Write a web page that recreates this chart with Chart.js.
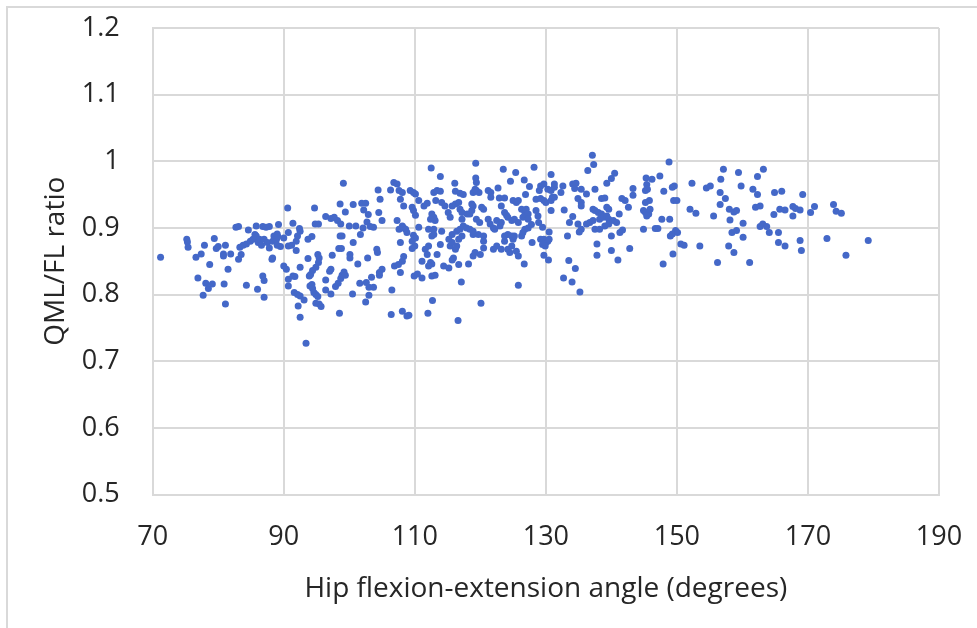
<!DOCTYPE html>
<html>
<head>
<meta charset="utf-8">
<script src="https://cdn.jsdelivr.net/npm/chart.js@4.4.1/dist/chart.umd.min.js"></script>
<style>
  html, body { margin: 0; padding: 0; background: #fff; overflow: hidden; }
  #frame { position: absolute; left: 6px; top: 6px; width: 971px; height: 622px; border-left: 2px solid #d9d9d9; border-top: 2px solid #d9d9d9; }
  #myChart { position: absolute; left: 0; top: 0; }
</style>
</head>
<body>
<div id="frame"></div>
<canvas id="myChart" width="977" height="628"></canvas>
<script>
// values, one entry per dot
const hipAngle = [
  71.2, 75.2, 75.3, 75.4, 76.6, 77.4, 77.9, 79.4, 78.7, 76.9,
  78.1, 78.5, 79.1, 77.7, 81.1, 80.9, 81.5, 79.7, 80.0, 81.1,
  80.8, 80.8, 81.9, 82.7, 83.1, 83.3, 83.5, 83.1, 84.3, 86.0,
  87.0, 86.8, 87.0, 88.2, 88.3, 84.6, 85.8, 86.8, 87.3, 87.8,
  89.2, 83.8, 84.3, 84.9, 85.3, 85.6, 85.8, 86.1, 86.3, 86.6,
  87.0, 87.5, 87.8, 88.3, 88.5, 89.0, 88.9, 89.1, 89.0, 89.5,
  90.0, 90.6, 90.0, 90.4, 90.7, 90.7, 90.7, 90.7,
  99.1, 94.7, 91.4, 92.4, 92.5, 91.9, 92.1, 91.9, 91.2, 93.7,
  94.3, 94.8, 95.3, 96.4, 97.2, 97.7, 98.2, 98.7, 98.6, 99.4,
  100.6, 101.9, 102.5, 102.2, 102.9, 102.7, 103.7, 103.2, 100.0, 101.0,
  102.1, 101.7, 98.6, 98.9, 98.4, 98.8, 100.6, 100.1, 100.1, 97.4,
  102.8, 101.3, 104.2, 104.3, 93.7, 95.2, 95.4, 95.3, 94.9, 94.4,
  94.1, 93.9, 94.0, 94.3, 92.5, 91.4, 91.7, 91.6, 92.1, 92.5,
  93.1, 92.2, 92.5, 94.4, 94.6, 94.9, 95.2, 94.9, 95.4, 95.7,
  96.4, 96.4, 97.2, 97.0, 97.2, 97.9, 98.3, 98.7, 98.9, 99.2,
  99.4, 100.5, 101.6, 102.6, 103.0, 103.4, 103.7, 103.0, 102.5, 98.5,
  93.4, 104.6, 105.0, 104.6, 106.5, 106.4, 108.1, 108.8, 106.9, 107.5,
  108.1, 108.3, 107.8, 104.4, 104.7, 106.3, 106.8, 107.3, 107.6, 108.1,
  107.8, 108.3, 109.3, 109.8, 110.1, 109.6, 109.8, 110.1, 107.3, 107.6,
  108.1, 108.3, 108.6, 108.8, 107.8, 109.8, 110.1, 109.6, 110.0, 105.0,
  104.5,
  112.5, 113.9, 119.3, 123.5, 125.4, 128.2, 116.1, 119.3, 119.4, 124.6,
  126.7, 122.7, 127.5, 129.0, 112.9, 113.4, 113.9, 116.2, 116.9, 117.4,
  118.9, 119.4, 119.8, 119.2, 121.2, 121.6, 121.6, 126.9, 122.9, 123.7,
  125.0, 125.5, 125.8, 128.5, 110.6, 111.9, 111.4, 113.2, 114.1, 114.6,
  115.7, 116.2, 116.7, 118.7, 118.9, 116.9, 117.2, 118.0, 120.2, 120.5,
  118.7, 118.4, 112.6, 112.9, 113.1, 112.4, 115.1, 115.4, 117.2, 119.4,
  119.9, 123.2, 123.7, 124.0, 124.2, 124.8, 125.2, 125.8, 126.3, 126.8,
  127.0, 127.3, 126.5, 127.3, 128.5, 128.8, 121.2, 121.5, 122.0, 122.2,
  122.5, 123.0, 123.2, 110.6, 112.1, 112.9, 112.6, 112.9, 114.1, 115.7,
  116.4, 116.9, 117.4, 117.9, 118.4, 118.9, 118.9, 119.7, 117.2, 116.7,
  115.2, 115.4, 115.7, 116.2, 116.4, 120.5, 120.5, 120.5, 113.9, 113.4,
  111.6, 112.1, 111.9, 111.1, 112.4, 112.6, 112.1, 114.4, 115.2, 115.9,
  115.7, 116.7, 118.2, 118.9, 119.2, 120.0, 122.0, 122.5, 123.2, 123.7,
  124.2, 124.5, 124.8, 125.0, 125.2, 124.2, 123.7, 124.8, 125.5, 125.8,
  126.3, 126.5, 126.8, 127.3, 127.8, 126.7, 125.8, 127.9, 117.1, 109.9,
  110.4, 111.1, 112.6, 113.1, 112.7, 112.0, 120.1, 116.6, 109.1, 109.6,
  137.1, 137.3, 136.4, 140.5, 140.0, 139.3, 148.8, 147.4, 145.3, 146.2,
  145.4, 149.6, 149.3, 148.0, 130.8, 129.2, 129.7, 130.3, 130.8, 131.3,
  131.3, 132.6, 132.3, 134.1, 134.6, 134.4, 135.4, 136.2, 137.5, 143.3,
  143.3, 145.2, 145.5, 145.8, 145.2, 144.9, 145.2, 145.7, 145.4, 145.9,
  149.5, 150.0, 141.6, 142.1, 142.6, 138.5, 139.0, 139.3, 139.6, 141.2,
  134.9, 135.4, 135.4, 129.2, 129.7, 130.0, 130.8, 131.0, 131.3, 130.8,
  132.8, 134.1, 137.2, 137.5, 138.0, 138.5, 138.2, 138.8, 139.3, 139.6,
  140.3, 140.8, 139.0, 139.6, 136.2, 136.7, 137.2, 134.9, 133.6, 135.4,
  135.1, 137.5, 138.2, 141.3, 141.7, 140.0, 133.3, 130.5, 128.9, 129.5,
  129.2, 129.7, 130.0, 130.3, 130.5, 129.5, 129.9, 129.7, 130.4, 137.8,
  137.8, 140.0, 141.0, 142.8, 144.9, 146.7, 147.1, 147.7, 148.9, 149.0,
  149.3, 149.8, 150.1, 150.6, 151.1, 149.4, 147.9, 133.5, 134.5, 132.7,
  134.0, 135.2,
  157.1, 159.4, 163.2, 162.3, 156.7, 152.3, 154.5, 155.1, 159.8, 161.6,
  162.3, 156.6, 157.4, 156.6, 164.9, 166.0, 169.2, 152.0, 152.9, 155.6,
  158.0, 158.7, 159.1, 158.1, 160.1, 162.0, 162.7, 164.8, 165.7, 166.5,
  167.7, 168.1, 168.8, 167.7, 170.4, 171.0, 158.4, 159.1, 160.1, 162.7,
  163.1, 163.7, 164.1, 165.5, 165.5, 166.5, 168.8, 169.0, 153.5, 157.9,
  158.7, 156.2, 161.1,
  173.9, 174.3, 175.1, 172.9, 175.8, 179.2
];

const qmlFlRatio = [
  0.856, 0.883, 0.879, 0.871, 0.856, 0.861, 0.874, 0.884, 0.845, 0.825,
  0.817, 0.809, 0.816, 0.799, 0.786, 0.816, 0.838, 0.869, 0.872, 0.874,
  0.861, 0.858, 0.861, 0.901, 0.902, 0.871, 0.860, 0.853, 0.814, 0.808,
  0.796, 0.828, 0.821, 0.853, 0.855, 0.897, 0.903, 0.902, 0.901, 0.902,
  0.905, 0.874, 0.876, 0.880, 0.883, 0.890, 0.888, 0.878, 0.883, 0.874,
  0.883, 0.878, 0.870, 0.880, 0.888, 0.891, 0.883, 0.887, 0.874, 0.872,
  0.885, 0.930, 0.843, 0.838, 0.823, 0.813, 0.873, 0.893,
  0.967, 0.930, 0.907, 0.899, 0.895, 0.880, 0.888, 0.866, 0.874, 0.883,
  0.887, 0.906, 0.906, 0.917, 0.914, 0.916, 0.911, 0.906, 0.936, 0.924,
  0.935, 0.937, 0.937, 0.927, 0.920, 0.909, 0.901, 0.902, 0.903, 0.903,
  0.900, 0.890, 0.888, 0.888, 0.869, 0.869, 0.878, 0.860, 0.855, 0.859,
  0.855, 0.846, 0.868, 0.863, 0.854, 0.860, 0.855, 0.848, 0.841, 0.836,
  0.830, 0.828, 0.813, 0.815, 0.841, 0.828, 0.827, 0.803, 0.800, 0.798,
  0.792, 0.783, 0.766, 0.809, 0.803, 0.800, 0.797, 0.787, 0.786, 0.782,
  0.822, 0.807, 0.801, 0.835, 0.838, 0.812, 0.817, 0.824, 0.829, 0.834,
  0.829, 0.801, 0.817, 0.818, 0.811, 0.826, 0.811, 0.799, 0.789, 0.772,
  0.727, 0.833, 0.838, 0.829, 0.807, 0.770, 0.775, 0.768, 0.843, 0.845,
  0.850, 0.857, 0.833, 0.957, 0.943, 0.957, 0.968, 0.966, 0.956, 0.953,
  0.943, 0.933, 0.956, 0.953, 0.951, 0.931, 0.926, 0.919, 0.911, 0.898,
  0.903, 0.900, 0.898, 0.893, 0.878, 0.889, 0.885, 0.869, 0.873, 0.911,
  0.923,
  0.990, 0.977, 0.997, 0.988, 0.983, 0.991, 0.967, 0.975, 0.968, 0.970,
  0.972, 0.960, 0.962, 0.956, 0.953, 0.956, 0.955, 0.955, 0.952, 0.950,
  0.953, 0.956, 0.953, 0.958, 0.956, 0.953, 0.946, 0.950, 0.945, 0.945,
  0.941, 0.938, 0.941, 0.943, 0.941, 0.937, 0.933, 0.941, 0.938, 0.933,
  0.933, 0.936, 0.938, 0.936, 0.933, 0.928, 0.923, 0.921, 0.931, 0.928,
  0.926, 0.921, 0.921, 0.916, 0.911, 0.913, 0.923, 0.916, 0.913, 0.913,
  0.908, 0.933, 0.923, 0.919, 0.916, 0.911, 0.913, 0.908, 0.928, 0.923,
  0.928, 0.921, 0.916, 0.913, 0.926, 0.918, 0.913, 0.906, 0.900, 0.898,
  0.911, 0.903, 0.908, 0.901, 0.898, 0.898, 0.888, 0.890, 0.895, 0.890,
  0.895, 0.898, 0.903, 0.900, 0.898, 0.890, 0.895, 0.890, 0.888, 0.883,
  0.883, 0.873, 0.878, 0.868, 0.873, 0.888, 0.880, 0.870, 0.875, 0.860,
  0.868, 0.873, 0.860, 0.850, 0.848, 0.846, 0.843, 0.843, 0.840, 0.855,
  0.852, 0.845, 0.846, 0.858, 0.863, 0.860, 0.868, 0.873, 0.868, 0.880,
  0.868, 0.863, 0.873, 0.883, 0.888, 0.890, 0.888, 0.888, 0.865, 0.858,
  0.888, 0.893, 0.898, 0.900, 0.905, 0.846, 0.814, 0.878, 0.819, 0.828,
  0.831, 0.825, 0.828, 0.829, 0.791, 0.772, 0.787, 0.761, 0.769, 0.880,
  1.009, 0.995, 0.986, 0.982, 0.974, 0.967, 0.999, 0.978, 0.975, 0.973,
  0.965, 0.963, 0.961, 0.955, 0.980, 0.963, 0.966, 0.958, 0.956, 0.966,
  0.961, 0.963, 0.953, 0.966, 0.967, 0.959, 0.958, 0.951, 0.958, 0.959,
  0.949, 0.956, 0.958, 0.941, 0.938, 0.926, 0.923, 0.921, 0.918, 0.928,
  0.941, 0.941, 0.944, 0.941, 0.931, 0.944, 0.945, 0.931, 0.928, 0.921,
  0.944, 0.938, 0.933, 0.944, 0.941, 0.938, 0.941, 0.946, 0.946, 0.926,
  0.927, 0.917, 0.928, 0.926, 0.923, 0.921, 0.913, 0.916, 0.918, 0.913,
  0.911, 0.908, 0.903, 0.906, 0.906, 0.908, 0.911, 0.906, 0.908, 0.898,
  0.894, 0.898, 0.898, 0.893, 0.897, 0.888, 0.888, 0.894, 0.908, 0.901,
  0.883, 0.883, 0.878, 0.880, 0.883, 0.875, 0.873, 0.859, 0.852, 0.876,
  0.859, 0.866, 0.852, 0.869, 0.898, 0.899, 0.899, 0.913, 0.913, 0.888,
  0.891, 0.896, 0.893, 0.876, 0.874, 0.861, 0.846, 0.851, 0.839, 0.825,
  0.819, 0.804,
  0.988, 0.983, 0.988, 0.977, 0.973, 0.967, 0.960, 0.963, 0.963, 0.958,
  0.950, 0.953, 0.944, 0.935, 0.953, 0.955, 0.950, 0.928, 0.922, 0.918,
  0.928, 0.924, 0.926, 0.912, 0.907, 0.931, 0.933, 0.920, 0.928, 0.927,
  0.932, 0.929, 0.927, 0.918, 0.923, 0.932, 0.893, 0.896, 0.886, 0.902,
  0.906, 0.902, 0.893, 0.893, 0.878, 0.873, 0.881, 0.866, 0.873, 0.873,
  0.863, 0.848, 0.848,
  0.935, 0.925, 0.922, 0.884, 0.859, 0.881
];

const xTicks = [70, 90, 110, 130, 150, 170, 190];
const yTicks = [0.5, 0.6, 0.7, 0.8, 0.9, 1.0, 1.1, 1.2];
const xTitle = 'Hip flexion-extension angle (degrees)';
const yTitle = 'QML/FL ratio';

const textColor = '#262626';
const gridColor = '#d9d9d9';
const tickFont = { family: 'Open Sans', size: 27 };
const titleFont = { family: 'Open Sans', size: 28 };

const points = hipAngle.map((x, i) => ({ x: x, y: qmlFlRatio[i] }));

// invisible tick marks push the labels away from the axis
// without adding extra layout padding
const config = {
    type: 'scatter',
    data: {
        datasets: [{
            data: points,
            backgroundColor: '#4468C8',
            borderWidth: 0,
            pointRadius: 3.5,
            pointHoverRadius: 3.5
        }]
    },
    options: {
        responsive: false,
        animation: false,
        devicePixelRatio: 1,
        layout: { padding: { top: 28, right: 38, left: 0, bottom: 0 } },
        plugins: {
            legend: { display: false },
            tooltip: { enabled: false }
        },
        scales: {
            x: {
                type: 'linear',
                min: xTicks[0],
                max: xTicks[xTicks.length - 1],
                ticks: { stepSize: xTicks[1] - xTicks[0], padding: 3, color: textColor, font: tickFont, maxRotation: 0 },
                grid: { color: gridColor, lineWidth: 2, drawTicks: true, tickLength: 24, tickColor: 'rgba(0,0,0,0)' },
                border: { color: gridColor, width: 2 },
                title: { display: true, text: xTitle, color: textColor, font: titleFont, padding: { top: 0, bottom: 22 } },
                afterFit: (scale) => { scale.height = 133.5 }
            },
            y: {
                type: 'linear',
                min: yTicks[0],
                max: yTicks[yTicks.length - 1],
                ticks: {
                    stepSize: 0.1,
                    padding: 3,
                    color: textColor,
                    font: tickFont,
                    callback: (v) => String(Math.round(v * 10) / 10)
                },
                grid: { color: gridColor, lineWidth: 2, drawTicks: true, tickLength: 30, tickColor: 'rgba(0,0,0,0)' },
                border: { color: gridColor, width: 2 },
                title: { display: true, text: yTitle, color: textColor, font: titleFont, padding: { top: 39, bottom: 0 } },
                afterFit: (scale) => { scale.width = 152.7 }
            }
        }
    }
};

var chart = new Chart(document.getElementById('myChart'), config);
</script>
</body>
</html>
